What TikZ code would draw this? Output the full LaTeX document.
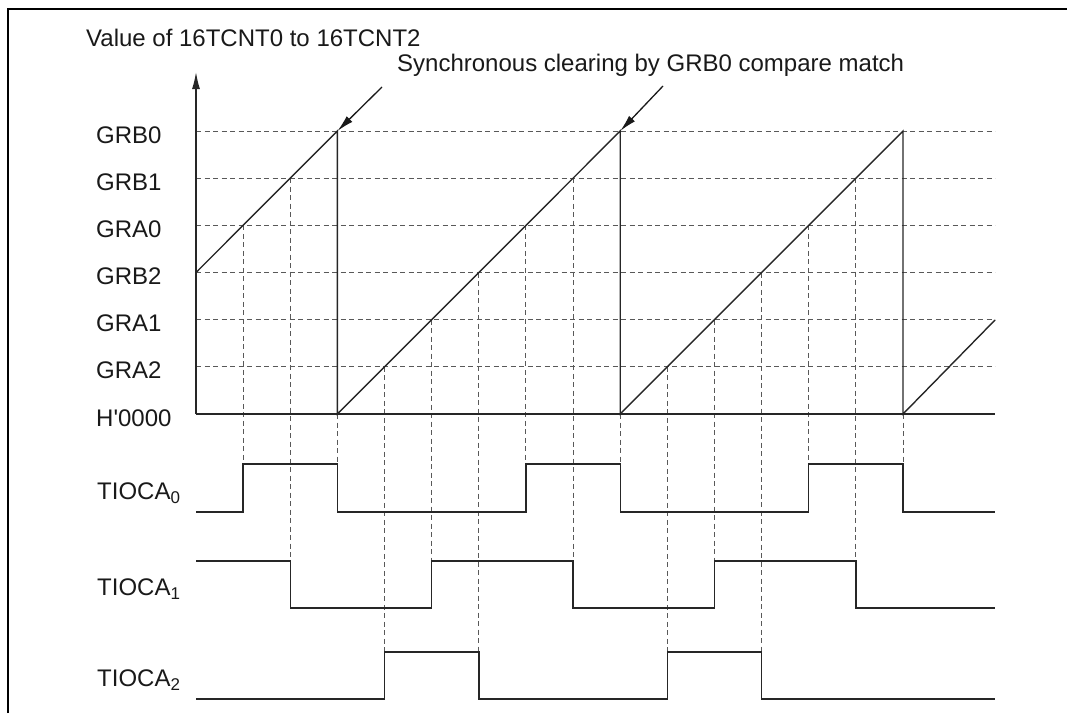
\documentclass[tikz,border=0pt]{standalone}
\usepackage{fontspec}
\setmainfont{Liberation Sans}
\newfontfamily\plainfont{Liberation Sans}[Ligatures=TeXOff]
\usetikzlibrary{arrows.meta}
\begin{document}
\begin{tikzpicture}[x=1pt,y=-1pt,
  frameline/.style={line width=2.5pt, black},
  solidline/.style={line width=1.4pt, black!85, line join=miter},
  gridline/.style={line width=1pt, black!65, dash pattern=on 5pt off 3.5pt},
  lbl/.style={anchor=base west, inner sep=0pt, text=black!90, font=\fontsize{24}{28}\selectfont},
  pointer/.style={line width=1.3pt, black!90, -{Latex[length=17pt,width=8pt]}}
]
\useasboundingbox (0,0) rectangle (1067,713);
\newcommand{\sub}[1]{\raisebox{-4pt}{\fontsize{17}{17}\selectfont #1}}
% time positions
\def\tO{196}\def\tA{243.1}\def\tB{290.3}\def\tC{337.4}\def\tD{384.5}
\def\tE{431.7}\def\tF{478.8}\def\tG{525.9}\def\tH{573.0}\def\tI{620.2}
\def\tJ{667.3}\def\tK{714.4}\def\tL{761.6}\def\tM{808.7}\def\tN{855.8}
\def\tP{903.0}\def\tZ{995}
% levels
\def\lZ{414}\def\lA{366.8}\def\lB{319.7}\def\lC{272.5}\def\lD{225.3}\def\lE{178.2}\def\lF{131}
% signal levels
\def\aH{464}\def\aL{512}\def\bH{561}\def\bL{608}\def\cH{652}\def\cL{699}

% frame
\draw[frameline] (8,713) -- (8,9) -- (1067,9);

% horizontal dashed levels
\foreach \l in {\lA,\lB,\lC,\lD,\lE,\lF}
  \draw[gridline] (\tO,\l) -- (\tZ,\l);

% vertical dashed lines
\foreach \x/\ya/\yb in {\tA/\lD/\aH, \tB/\lE/\bH, \tC/\lZ/\aH,
  \tD/\lA/\cH, \tE/\lB/\bH, \tF/\lC/\cH, \tG/\lD/\aH, \tH/\lE/\bH, \tI/\lZ/\aH,
  \tJ/\lA/\cH, \tK/\lB/\bH, \tL/\lC/\cH, \tM/\lD/\aH, \tN/\lE/\bH, \tP/\lZ/\aH}
  \draw[gridline] (\x,\ya) -- (\x,\yb);

% axes
\coordinate (origin) at (\tO,\lZ);
\coordinate (axistop) at (\tO,72);
\coordinate (axisend) at (\tZ,\lZ);
\draw[solidline, -{Latex[length=17pt,width=8pt]}] (origin) -- (axistop);
\draw[solidline] (origin) -- (axisend);

% counter ramps
\draw[solidline] (\tO,\lC) -- (\tC,\lF) -- (\tC,\lZ) -- (\tI,\lF) -- (\tI,\lZ)
  -- (\tP,\lF) -- (\tP,\lZ) -- (\tZ,320);

% output waveforms
\draw[solidline] (\tO,\aL) -- (\tA,\aL) -- (\tA,\aH) -- (\tC,\aH) -- (\tC,\aL)
  -- (\tG,\aL) -- (\tG,\aH) -- (\tI,\aH) -- (\tI,\aL) -- (\tM,\aL) -- (\tM,\aH)
  -- (\tP,\aH) -- (\tP,\aL) -- (\tZ,\aL);
\draw[solidline] (\tO,\bH) -- (\tB,\bH) -- (\tB,\bL) -- (\tE,\bL) -- (\tE,\bH)
  -- (\tH,\bH) -- (\tH,\bL) -- (\tK,\bL) -- (\tK,\bH) -- (\tN,\bH) -- (\tN,\bL)
  -- (\tZ,\bL);
\draw[solidline] (\tO,\cL) -- (\tD,\cL) -- (\tD,\cH) -- (\tF,\cH) -- (\tF,\cL)
  -- (\tJ,\cL) -- (\tJ,\cH) -- (\tL,\cH) -- (\tL,\cL) -- (\tZ,\cL);

% clearing pointers
\coordinate (clrA) at (\tC,\lF);
\coordinate (clrB) at (\tI,\lF);
\coordinate (ptrA) at (382,87);
\coordinate (ptrB) at (663,86);
\draw[pointer] (ptrA) -- (clrA);
\draw[pointer] (ptrB) -- (clrB);

% texts
\node[lbl] (ttl) at (86,46.7) {Value of 16TCNT0 to 16TCNT2};
\node[lbl] (sync) at (397,71) {Synchronous clearing by GRB0 compare match};
\node[lbl] (lgrbz) at (96,143) {GRB0};
\node[lbl] (lgrbo) at (96,190.2) {GRB1};
\node[lbl] (lgraz) at (96,237.3) {GRA0};
\node[lbl] (lgrbt) at (96,284.5) {GRB2};
\node[lbl] (lgrao) at (96,331.7) {GRA1};
\node[lbl] (lgrat) at (96,378.8) {GRA2};
\node[lbl] (lzero) at (96,426) {\plainfont H'0000};
\node[lbl] (ltz) at (97,499) {TIOCA\sub{0}};
\node[lbl] (lto) at (97,595) {TIOCA\sub{1}};
\node[lbl] (ltt) at (97,686) {TIOCA\sub{2}};
\end{tikzpicture}
\end{document}
